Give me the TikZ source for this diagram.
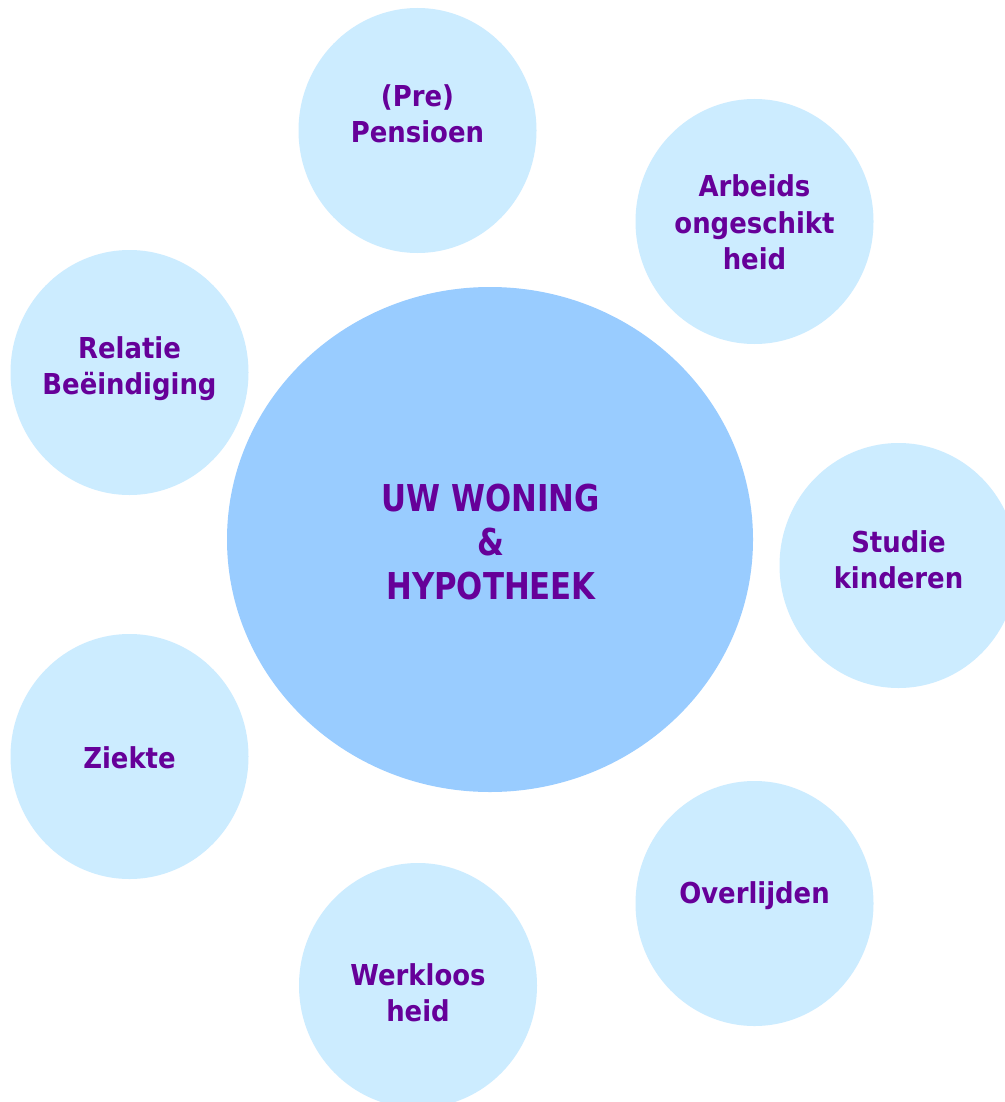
\documentclass[tikz,border=0pt]{standalone}
\usepackage{fontspec}
\usetikzlibrary{shapes.geometric}
\IfFontExistsTF{DejaVu Sans Condensed}{%
  \newfontfamily\lblfont{DejaVu Sans Condensed}%
  \newfontfamily\bigfont[FakeStretch=0.925]{DejaVu Sans Condensed}%
}{%
  \newfontfamily\lblfont[FakeStretch=0.9]{DejaVu Sans}%
  \newfontfamily\bigfont[FakeStretch=0.83]{DejaVu Sans}%
}
\definecolor{smallblue}{HTML}{CCECFF}
\definecolor{bigblue}{HTML}{99CCFF}
\definecolor{txtpurple}{HTML}{660099}
\tikzset{
  bubble/.style={ellipse, fill=smallblue, draw=none, inner sep=0pt,
    minimum width=178.5pt, minimum height=183.75pt},
  hub/.style={ellipse, fill=bigblue, draw=none, inner sep=0pt,
    minimum width=394.5pt, minimum height=378.75pt},
  lbl/.style={text=txtpurple, align=center, inner sep=0pt,
    font=\lblfont\bfseries\fontsize{21.6}{27.4}\selectfont},
  biglbl/.style={text=txtpurple, align=center, inner sep=0pt,
    font=\bigfont\bfseries\fontsize{27.75}{33}\selectfont},
}
\begin{document}
\begin{tikzpicture}[x=0.75pt,y=-0.75pt]
\useasboundingbox (0,0) rectangle (1005,1102);
\clip (0,0) rectangle (1005,1102);
\fill[white] (0,0) rectangle (1005,1102);
% circles
\node[hub] (hub) at (490,539.5) {};
\node[bubble] (pens) at (417.5,130.5) {};
\node[bubble] (arb) at (754.5,221.5) {};
\node[bubble] (rel) at (129.5,372.5) {};
\node[bubble] (stu) at (898.5,565.5) {};
\node[bubble] (zie) at (129.5,756.5) {};
\node[bubble] (ovl) at (754.5,903.5) {};
\node[bubble] (wrk) at (418,985.5) {};
% labels
\node[biglbl] (thub) at (491,546.5) {\strut UW WONING\\\&\\HYPOTHEEK\strut};
\node[lbl] (tpens) at (417.5,117.3) {\strut(Pre)\\Pensioen\strut};
\node[lbl] (tarb) at (754.5,226) {\strut Arbeids\\ongeschikt\\heid\strut};
\node[lbl] (trel) at (129.5,369) {\strut Relatie\\Beëindiging\strut};
\node[lbl] (tstu) at (898.5,563) {\strut Studie\\kinderen\strut};
\node[lbl] (tzie) at (129.5,760.8) {\strut Ziekte\strut};
\node[lbl] (tovl) at (754.5,895.8) {\strut Overlijden\strut};
\node[lbl] (twrk) at (418,996) {\strut Werkloos\\heid\strut};
\end{tikzpicture}
\end{document}
